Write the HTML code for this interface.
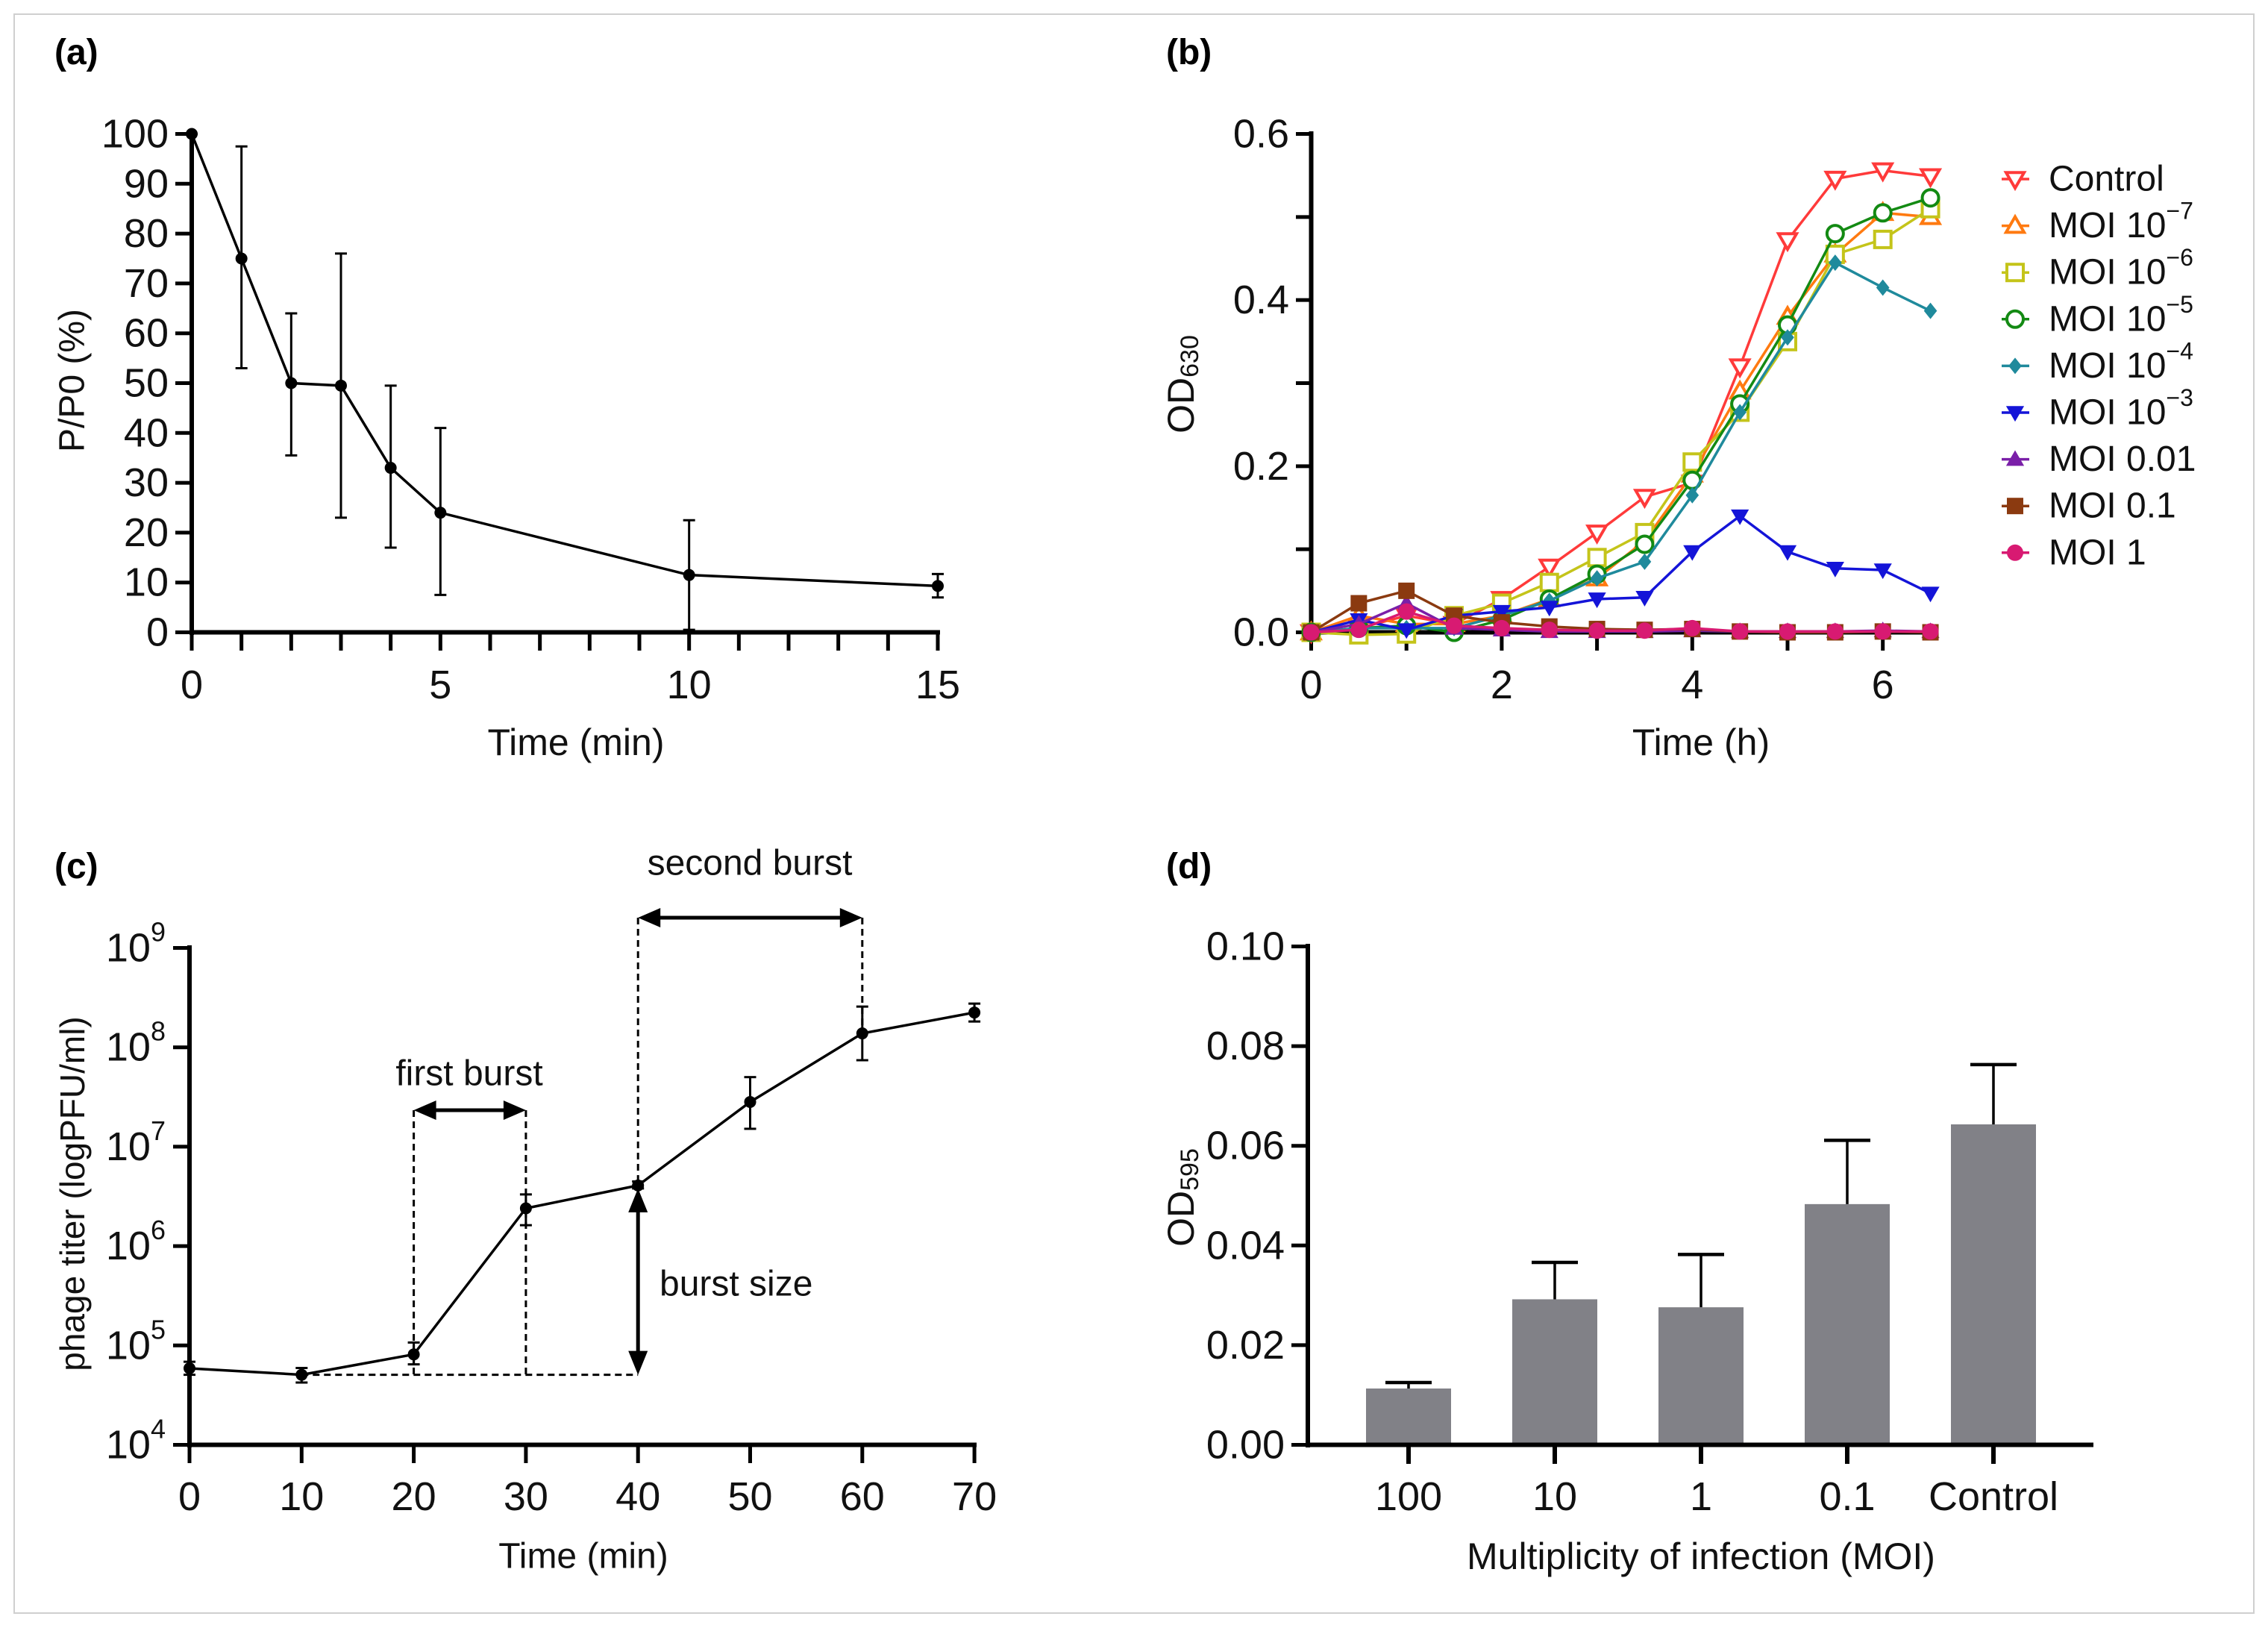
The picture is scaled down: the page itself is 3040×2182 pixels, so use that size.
<!DOCTYPE html>
<html><head><meta charset="utf-8"><style>
html,body{margin:0;padding:0;background:#fff;}
svg{display:block;font-family:"Liberation Sans",sans-serif;}
</style></head><body>
<svg id="fig" width="3040" height="2182" viewBox="0 0 3040 2182" xmlns="http://www.w3.org/2000/svg">
<rect x="19" y="19" width="3002" height="2143" fill="none" stroke="#cfcfcf" stroke-width="2"/>
<text x="73" y="86" font-size="48" font-weight="bold">(a)</text>
<text x="1563" y="86" font-size="48" font-weight="bold">(b)</text>
<text x="73" y="1177" font-size="48" font-weight="bold">(c)</text>
<text x="1563" y="1177" font-size="48" font-weight="bold">(d)</text>
</svg>
<script>
// ---------- Panel A data ----------
const aTimes = [0,1,2,3,4,5,10,15];
const aValues = [100,75,50,49.5,33,24,11.5,9.3];
const aErrLow = [100,53,35.5,23,17,7.5,0.5,7];
const aErrHigh = [100,97.5,64,76,49.5,41,22.5,11.7];
const aYTicks = [0,10,20,30,40,50,60,70,80,90,100];
const aXTicks = [0,5,10,15];
// ---------- Panel B data ----------
const bTimes = [0,0.5,1,1.5,2,2.5,3,3.5,4,4.5,5,5.5,6,6.5];
const bNames = ["Control","MOI 10^-7","MOI 10^-6","MOI 10^-5","MOI 10^-4","MOI 10^-3","MOI 0.01","MOI 0.1","MOI 1"];
const bControl = [0,0.005,0.02,0.01,0.04,0.079,0.12,0.163,0.18,0.32,0.472,0.546,0.556,0.549];
const bMoi7 = [0,0.02,0.01,0.01,0.02,0.04,0.065,0.11,0.19,0.29,0.38,0.455,0.505,0.5];
const bMoi6 = [0,-0.003,-0.002,0.02,0.035,0.06,0.09,0.12,0.205,0.265,0.35,0.455,0.473,0.51];
const bMoi5 = [0,0.005,0.008,0.0,0.015,0.04,0.07,0.106,0.183,0.275,0.37,0.48,0.505,0.523];
const bMoi4 = [0,0.005,0.005,0.005,0.02,0.038,0.065,0.085,0.165,0.265,0.355,0.445,0.415,0.387];
const bMoi3 = [0,0.015,0.003,0.02,0.025,0.03,0.04,0.042,0.097,0.14,0.097,0.077,0.075,0.047];
const bMoi001 = [0,0.01,0.035,0.005,0.003,0.001,0.001,0.001,0.002,0.001,0.001,0.001,0.002,0.001];
const bMoi01 = [0,0.035,0.05,0.02,0.012,0.007,0.004,0.003,0.004,0.001,0,0,0.001,0];
const bMoi1 = [0,0.003,0.025,0.008,0.005,0.003,0.002,0.002,0.005,0.001,0.001,0.001,0.001,0.001];
const bYTicks = [0,0.2,0.4,0.6];
const bXTicks = [0,2,4,6];
// ---------- Panel C data ----------
const cTimes = [0,10,20,30,40,50,60,70];
const cLogValues = [4.77,4.705,4.91,6.38,6.61,7.45,8.14,8.35];
const cErrLow = [4.705,4.627,4.81,6.21,6.58,7.18,7.87,8.26];
const cErrHigh = [4.836,4.773,5.029,6.52,6.65,7.70,8.41,8.44];
const cYTicks = [4,5,6,7,8,9];
const cXTicks = [0,10,20,30,40,50,60,70];
// ---------- Panel D data ----------
const dCategories = ["100","10","1","0.1","Control"];
const dValues = [0.0113,0.0292,0.0276,0.0483,0.0643];
const dErrHigh = [0.0125,0.0366,0.0382,0.0611,0.0763];
const dYTicks = [0,0.02,0.04,0.06,0.08,0.10];

const svg = document.getElementById('fig');
const NS = 'http://www.w3.org/2000/svg';
function mk(tag, attrs, parent){
  const el = document.createElementNS(NS, tag);
  for (const k in attrs) el.setAttribute(k, attrs[k]);
  (parent||svg).appendChild(el);
  return el;
}
function txt(x,y,s,size,anchor,parent){
  const t = mk('text',{x:x,y:y,'font-size':size,'text-anchor':anchor||'middle','dominant-baseline':'central',fill:'#111'},parent);
  t.textContent = s;
  return t;
}
function line(x1,y1,x2,y2,w,col,parent){
  return mk('line',{x1:x1,y1:y1,x2:x2,y2:y2,stroke:col||'#000','stroke-width':w||4},parent);
}

// ================= PANEL A =================
const ax = v => 257 + (v/15)*1000;
const ay = v => 847.5 - (v/100)*668;
line(257,176,257,851,6);
line(254,847.5,1260,847.5,6);
aYTicks.forEach(v=>{
  const tk = line(235,ay(v),257,ay(v),5);
  
  
  const l = txt(226,ay(v),String(v),54,'end');
  
  
});
for(let m=0;m<=15;m++){
  const tk = line(ax(m),847.5,ax(m),872,5);
  
  
}
aXTicks.forEach(v=>{
  const l = txt(ax(v),918,String(v),54);
  
  
});
{
  const t = txt(772,995,'Time (min)',50);
  
  
  const yt = txt(0,0,'P/P0 (%)',48);
  yt.setAttribute('transform','translate(97,510) rotate(-90)');
  
  
  const pts = aTimes.map((t,i)=>ax(t)+','+ay(aValues[i])).join(' ');
  const pl = mk('polyline',{points:pts,fill:'none',stroke:'#000','stroke-width':3.5});
  
  
  aTimes.forEach((t,i)=>{
    const g = mk('g',{});
    
    
    line(ax(t),ay(aErrLow[i]),ax(t),ay(aErrHigh[i]),3,'#000',g);
    line(ax(t)-8,ay(aErrLow[i]),ax(t)+8,ay(aErrLow[i]),3,'#000',g);
    line(ax(t)-8,ay(aErrHigh[i]),ax(t)+8,ay(aErrHigh[i]),3,'#000',g);
    mk('circle',{cx:ax(t),cy:ay(aValues[i]),r:8,fill:'#000'},g);
  });
}

// ================= PANEL B =================
const bx = v => 1757.5 + v*127.7;
const by = v => 847.5 - (v/0.6)*668;
line(1757.5,176,1757.5,851,6);
line(1755,847.5,2588,847.5,6);
for(let k=0;k<=6;k++){
  const v=k*0.1;
  const tk = line(1737,by(v),1757.5,by(v),5);
  
  
}
bYTicks.forEach(v=>{
  const l = txt(1728,by(v),v.toFixed(1),54,'end');
  
  
});
for(let h=0;h<=6;h++){
  const tk = line(bx(h),847.5,bx(h),872,5);
  
  
}
bXTicks.forEach(v=>{
  const l = txt(bx(v),918,String(v),54);
  
  
});
{
  const t = txt(2280,995,'Time (h)',50);
  
  
  const yt = mk('text',{'font-size':50,'text-anchor':'middle','dominant-baseline':'central',transform:'translate(1583,515) rotate(-90)',fill:'#111'});
  yt.innerHTML = 'OD<tspan font-size="34" dy="12">630</tspan>';
  
  
}
const bSeries = [bControl,bMoi7,bMoi6,bMoi5,bMoi4,bMoi3,bMoi001,bMoi01,bMoi1];
const bColors = ['#ff3a3a','#ff7a10','#c4c41a','#138a13','#1f8a9c','#1414d8','#7a1fa8','#8b3a10','#d81a72'];
const bShapes = ['tridownOpen','triupOpen','squareOpen','circleOpen','diamond','tridown','triup','square','circle'];
function marker(shape,x,y,col,parent){
  const s=11;
  const open = shape.endsWith('Open');
  const fill = open ? '#fff' : col;
  const sw = open ? 4 : 0;
  const base = shape.replace('Open','');
  if(base==='circle') return mk('circle',{cx:x,cy:y,r:s,fill:fill,stroke:col,'stroke-width':sw||0},parent);
  if(base==='square') return mk('rect',{x:x-s,y:y-s,width:2*s,height:2*s,fill:fill,stroke:col,'stroke-width':sw},parent);
  if(base==='diamond') return mk('polygon',{points:`${x},${y-s} ${x+s*0.8},${y} ${x},${y+s} ${x-s*0.8},${y}`,fill:fill},parent);
  if(base==='triup') return mk('polygon',{points:`${x},${y-s*1.1} ${x+s*1.1},${y+s*0.8} ${x-s*1.1},${y+s*0.8}`,fill:fill,stroke:col,'stroke-width':sw},parent);
  return mk('polygon',{points:`${x},${y+s*1.1} ${x+s*1.1},${y-s*0.8} ${x-s*1.1},${y-s*0.8}`,fill:fill,stroke:col,'stroke-width':sw},parent);
}
bSeries.forEach((ser,si)=>{
  const g = mk('g',{});
  
  
  mk('polyline',{points:bTimes.map((t,i)=>bx(t)+','+by(ser[i])).join(' '),fill:'none',stroke:bColors[si],'stroke-width':3.5},g);
  bTimes.forEach((t,i)=>marker(bShapes[si],bx(t),by(ser[i]),bColors[si],g));
});
// legend
bNames.forEach((n,i)=>{
  const y = 240 + i*62.6;
  const g = mk('g',{});
  
  
  line(2683,y,2720,y,3.5,bColors[i],g);
  marker(bShapes[i],2701,y,bColors[i],g);
  const t = mk('text',{x:2746,y:y,'font-size':48,'dominant-baseline':'central',fill:'#111'},g);
  const m = n.match(/^MOI 10\^(-\d)$/);
  if(m){ t.innerHTML = 'MOI 10<tspan font-size="32" dy="-20">\u2212'+m[1].slice(1)+'</tspan>'; }
  else t.textContent = n;
});

// ================= PANEL C =================
const cx = v => 254 + v*15.03;
const cy = v => 1936.5 - (v-4)*133.2;
line(254,1267,254,1940,6);
line(251,1936.5,1309,1936.5,6);
cYTicks.forEach(v=>{
  const tk = line(232,cy(v),254,cy(v),5);
  
  
  const l = mk('text',{x:222,y:cy(v),'font-size':54,'text-anchor':'end','dominant-baseline':'central',fill:'#111'});
  l.innerHTML = '10<tspan font-size="36" dy="-22">'+v+'</tspan>';
  
  
});
cXTicks.forEach(v=>{
  const tk = line(cx(v),1936.5,cx(v),1961,5);
  
  
  const l = txt(cx(v),2006,String(v),54);
  
  
});
{
  const t = txt(782,2086,'Time (min)',48);
  
  
  const yt = txt(0,0,'phage titer (logPFU/ml)',46);
  yt.setAttribute('transform','translate(97,1600) rotate(-90)');
  
  
  // dashed guides
  const base = cy(cLogValues[1]);
  const arrowTop2 = 1230, arrowTop1 = 1488;
  const dg = mk('g',{stroke:'#000','stroke-width':3,'stroke-dasharray':'9,6',fill:'none'});
  
  
  mk('line',{x1:cx(10),y1:base,x2:cx(40),y2:base},dg);
  mk('line',{x1:cx(20),y1:arrowTop1,x2:cx(20),y2:base},dg);
  mk('line',{x1:cx(30),y1:arrowTop1,x2:cx(30),y2:base},dg);
  mk('line',{x1:cx(40),y1:arrowTop2,x2:cx(40),y2:cy(cLogValues[4])},dg);
  mk('line',{x1:cx(60),y1:arrowTop2,x2:cx(60),y2:cy(cLogValues[6])},dg);
  function harrow(x1,x2,y,name){
    const g = mk('g',{});
    
    
    line(x1+18,y,x2-18,y,5,'#000',g);
    mk('polygon',{points:`${x1},${y} ${x1+30},${y-13} ${x1+30},${y+13}`,fill:'#000'},g);
    mk('polygon',{points:`${x2},${y} ${x2-30},${y-13} ${x2-30},${y+13}`,fill:'#000'},g);
  }
  harrow(cx(20),cx(30),arrowTop1,'first-burst-arrow');
  harrow(cx(40),cx(60),arrowTop2,'second-burst-arrow');
  const vg = mk('g',{});
  
  
  const vx = cx(40), vt = cy(cLogValues[4])+4;
  line(vx,vt+20,vx,base-20,5,'#000',vg);
  mk('polygon',{points:`${vx},${vt} ${vx-13},${vt+32} ${vx+13},${vt+32}`,fill:'#000'},vg);
  mk('polygon',{points:`${vx},${base} ${vx-13},${base-32} ${vx+13},${base-32}`,fill:'#000'},vg);
  const l1 = txt(629,1439,'first burst',48);
  
  
  const l2 = txt(1005,1157,'second burst',48);
  
  
  const l3 = txt(884,1721,'burst size',48,'start');
  
  
  const pl = mk('polyline',{points:cTimes.map((t,i)=>cx(t)+','+cy(cLogValues[i])).join(' '),fill:'none',stroke:'#000','stroke-width':3.5});
  
  
  cTimes.forEach((t,i)=>{
    const g = mk('g',{});
    
    
    line(cx(t),cy(cErrLow[i]),cx(t),cy(cErrHigh[i]),3,'#000',g);
    line(cx(t)-8,cy(cErrLow[i]),cx(t)+8,cy(cErrLow[i]),3,'#000',g);
    line(cx(t)-8,cy(cErrHigh[i]),cx(t)+8,cy(cErrHigh[i]),3,'#000',g);
    mk('circle',{cx:cx(t),cy:cy(cLogValues[i]),r:8,fill:'#000'},g);
  });
}

// ================= PANEL D =================
const dx = i => 1888 + i*196;
const dy = v => 1936.5 - (v/0.1)*668;
dCategories.forEach((c,i)=>{
  const b = mk('rect',{x:dx(i)-57,y:dy(dValues[i]),width:114,height:dy(0)-dy(dValues[i]),fill:'#818187'});
  
  
  const e = mk('g',{});
  
  
  line(dx(i),dy(dValues[i]),dx(i),dy(dErrHigh[i]),3.5,'#000',e);
  line(dx(i)-31,dy(dErrHigh[i]),dx(i)+31,dy(dErrHigh[i]),4.5,'#000',e);
  const tk = line(dx(i),1936.5,dx(i),1962,6);
  
  
  const l = txt(dx(i),2006,c,54);
  
  
});
line(1753,1265,1753,1940,6);
line(1750,1936.5,2806,1936.5,6);
dYTicks.forEach(v=>{
  const tk = line(1731,dy(v),1753,dy(v),5);
  
  
  const l = txt(1722,dy(v),v.toFixed(2),54,'end');
  
  
});
{
  const t = txt(2280,2086,'Multiplicity of infection (MOI)',50);
  
  
  const yt = mk('text',{'font-size':50,'text-anchor':'middle','dominant-baseline':'central',transform:'translate(1583,1605) rotate(-90)',fill:'#111'});
  yt.innerHTML = 'OD<tspan font-size="34" dy="12">595</tspan>';
  
  
}
</script>
</body></html>
